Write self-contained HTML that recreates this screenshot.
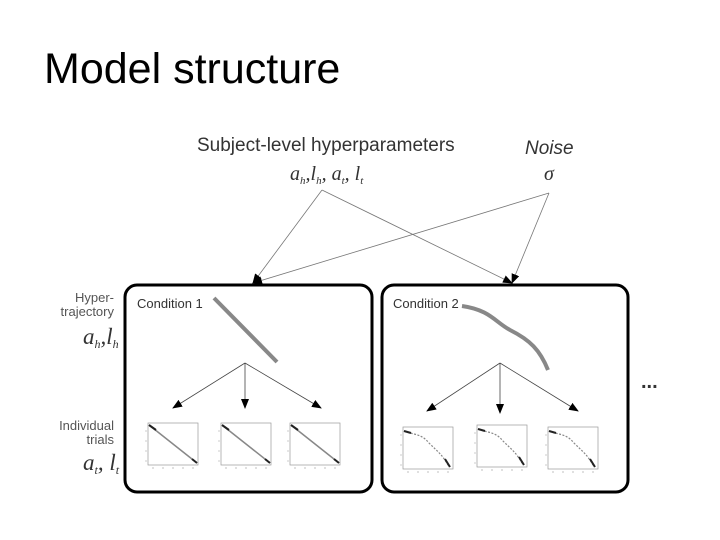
<!DOCTYPE html>
<html><head><style>
body{margin:0;background:#fff;}
svg{display:block;}
text{font-family:"Liberation Sans",sans-serif;}
.m{font-family:"Liberation Serif",serif;font-style:italic;}
</style></head><body>
<svg width="720" height="540" viewBox="0 0 720 540">
<defs>
<marker id="a" markerWidth="10" markerHeight="8" refX="9" refY="4" orient="auto" markerUnits="userSpaceOnUse"><path d="M0,0 L10,4 L0,8 z" fill="#000"/></marker>
<g id="plot">
<rect x="0" y="0" width="50" height="42" fill="#fff" stroke="#999" stroke-width="0.7"/>
<path d="M1,2 L49,40" stroke="#888" stroke-width="1.5"/>
<path d="M1,2 L8,7 M44,36 L49,40" stroke="#222" stroke-width="2"/>
<path d="M5,44 v2 M15,44 v2 M25,44 v2 M35,44 v2 M45,44 v2 M-3,8 h2 M-3,18 h2 M-3,28 h2 M-3,38 h2" stroke="#999" stroke-width="0.6"/>
</g>
<g id="plot2">
<rect x="0" y="0" width="50" height="42" fill="#fff" stroke="#999" stroke-width="0.7"/>
<path d="M1,4 C10,8 18,6 26,16 C34,24 40,28 46,40" stroke="#888" stroke-width="1.2" fill="none" stroke-dasharray="2 1.5"/>
<path d="M1,4 L8,6 M42,32 L47,40" stroke="#222" stroke-width="2"/>
<path d="M5,44 v2 M15,44 v2 M25,44 v2 M35,44 v2 M45,44 v2 M-3,8 h2 M-3,18 h2 M-3,28 h2 M-3,38 h2" stroke="#999" stroke-width="0.6"/>
</g>
</defs>
<text x="44" y="83" font-size="43" fill="#000">Model structure</text>
<text x="197" y="151" font-size="19" fill="#333">Subject-level hyperparameters</text>
<text x="290" y="180" font-size="20" class="m" fill="#333">a<tspan font-size="11" dy="4">h</tspan><tspan dy="-4">,</tspan>l<tspan font-size="11" dy="4">h</tspan><tspan dy="-4">, a</tspan><tspan font-size="11" dy="4">t</tspan><tspan dy="-4">, l</tspan><tspan font-size="11" dy="4">t</tspan></text>
<text x="525" y="154" font-size="19" font-style="italic" fill="#333">Noise</text>
<text x="544" y="180" font-size="20" class="m" fill="#333">σ</text>
<g stroke="#777" stroke-width="0.8" fill="none">
<path d="M322,190 L253,283" marker-end="url(#a)"/>
<path d="M322,190 L512,283" marker-end="url(#a)"/>
<path d="M549,193 L253,283" marker-end="url(#a)"/>
<path d="M549,193 L512,283" marker-end="url(#a)"/>
</g>
<rect x="125" y="285" width="247" height="207" rx="12" fill="none" stroke="#000" stroke-width="3"/>
<rect x="382" y="285" width="246" height="207" rx="12" fill="none" stroke="#000" stroke-width="3"/>
<text x="137" y="308" font-size="13" fill="#333">Condition 1</text>
<text x="393" y="308" font-size="13" fill="#333">Condition 2</text>
<path d="M214,298 L277,362" stroke="#888" stroke-width="4"/>
<path d="M462,306 C490,310 495,322 510,330 C530,340 540,350 548,370" stroke="#888" stroke-width="4" fill="none"/>
<text x="114" y="302" font-size="13" fill="#555" text-anchor="end">Hyper-</text>
<text x="114" y="316" font-size="13" fill="#555" text-anchor="end">trajectory</text>
<text x="83" y="344" font-size="23" class="m" fill="#333">a<tspan font-size="12" dy="4">h</tspan><tspan dy="-4">,l</tspan><tspan font-size="12" dy="4">h</tspan></text>
<text x="114" y="430" font-size="13" fill="#555" text-anchor="end">Individual</text>
<text x="114" y="444" font-size="13" fill="#555" text-anchor="end">trials</text>
<text x="83" y="470" font-size="23" class="m" fill="#333">a<tspan font-size="12" dy="4">t</tspan><tspan dy="-4">, l</tspan><tspan font-size="12" dy="4">t</tspan></text>
<g stroke="#444" stroke-width="0.8" fill="none">
<path d="M245,363 L173,408" marker-end="url(#a)"/>
<path d="M245,363 L245,408" marker-end="url(#a)"/>
<path d="M245,363 L321,408" marker-end="url(#a)"/>
<path d="M500,363 L427,411" marker-end="url(#a)"/>
<path d="M500,363 L500,413" marker-end="url(#a)"/>
<path d="M500,363 L578,411" marker-end="url(#a)"/>
</g>
<use href="#plot" x="148" y="423"/>
<use href="#plot" x="221" y="423"/>
<use href="#plot" x="290" y="423"/>
<use href="#plot2" x="403" y="427"/>
<use href="#plot2" x="477" y="425"/>
<use href="#plot2" x="548" y="427"/>
<text x="641" y="388" font-size="20" font-weight="bold" fill="#333">...</text>
</svg>
</body></html>
